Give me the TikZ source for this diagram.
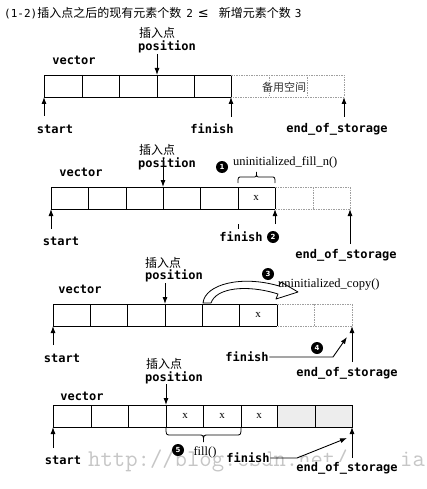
\documentclass[tikz,border=0pt]{standalone}
\usepackage{fontspec}
\newfontfamily\cjk{Noto Sans CJK SC}
\newfontfamily\monof{DejaVu Sans Mono}
\newfontfamily\serf{Liberation Serif}
\newfontfamily\djv{DejaVu Sans}
\usetikzlibrary{arrows.meta}
\begin{document}
\begin{tikzpicture}[x=1pt,y=-1pt,
  lbl/.style={font=\monof\bfseries\fontsize{12}{12}\selectfont, inner sep=0.5pt},
  cjkl/.style={font=\cjk\fontsize{12}{12}\selectfont, inner sep=0pt},
  fn/.style={font=\serf\fontsize{12.5}{12.5}\selectfont, inner sep=0pt},
  xl/.style={font=\serf\fontsize{11}{11}\selectfont, inner sep=0pt},
  num/.style={circle, fill=black, text=white, inner sep=0pt, minimum size=12pt, font=\djv\bfseries\fontsize{7}{7}\selectfont},
  ptr/.style={-{Latex[length=7pt,width=5pt]}, line width=0.9pt},
  cellline/.style={line width=0.9pt},
  spare/.style={gray!75, line width=0.6pt, dash pattern=on 1.5pt off 1pt},
  wm/.style={font=\ttfamily\fontsize{24}{24}\selectfont, text=gray!45, inner sep=0pt, anchor=base west},
  brc/.style={line width=0.8pt},
]
\useasboundingbox (0,0) rectangle (427,489);

% title
\node[cjkl, anchor=west] (title) at (4,13) {{\monof\fontsize{11}{11}\selectfont(1-2)}插入点之后的现有元素个数\hspace{5pt}{\monof\fontsize{11}{11}\selectfont 2}\hspace{5pt}{\djv\fontsize{13}{13}\selectfont ≤}\hspace{10pt}新增元素个数\hspace{4pt}{\monof\fontsize{11}{11}\selectfont 3}};

% ---------------- block 1 ----------------
\node[lbl] (vec1) at (74,60) {vector};
\node[cjkl] (ins1) at (157,33) {插入点};
\node[lbl] (pos1) at (167,47) {position};
\draw[cellline] (231,75) -- (44,75) -- (44,97) -- (231,97);
\foreach \x in {82,119,157,194,231} \draw[cellline] (\x,75) -- (\x,97);
\draw[spare] (231,75) -- (344,75) -- (344,97) -- (231,97);
\foreach \x in {269,307} \draw[spare] (\x,75) -- (\x,97);
\node[font=\cjk\fontsize{11}{11}\selectfont, text=black!80, fill=white, inner sep=0.5pt] (spare1) at (284,87) {备用空间};
\coordinate (p1) at (157,75);
\draw[ptr] (pos1.south -| p1) -- (p1);
\node[lbl] (start1) at (55,129) {start};
\node[lbl] (fin1) at (212,129) {finish};
\node[lbl] (eos1) at (337,129) {end\_of\_storage};
\coordinate (s1) at (44,97); \coordinate (s1b) at (44,116);
\coordinate (f1) at (231,97); \coordinate (f1b) at (231,117);
\coordinate (e1) at (344,97); \coordinate (e1b) at (344,117);
\draw[ptr] (s1b) -- (s1);
\draw[ptr] (f1b) -- (f1);
\draw[ptr] (e1b) -- (e1);

% ---------------- block 2 ----------------
\node[lbl] (vec2) at (81,172) {vector};
\node[cjkl] (ins2) at (157,150) {插入点};
\node[lbl] (pos2) at (167,164) {position};
\draw[cellline] (275,187) -- (51,187) -- (51,209) -- (275,209);
\foreach \x in {88,126,163,200,238,275} \draw[cellline] (\x,187) -- (\x,209);
\draw[spare] (275,187) -- (350,187) -- (350,209) -- (275,209);
\draw[spare] (313,187) -- (313,209);
\node[xl] (x21) at (256,198) {x};
\coordinate (p2) at (163,187); \coordinate (p2t) at (163,158);
\draw[ptr] (p2t) -- (p2);
% brace above the new element
\draw[brc] (238,183) .. controls (238,177) .. (242,177) -- (252.5,177)
  .. controls (256.5,177) .. (256.5,172) .. controls (256.5,177) .. (260.5,177)
  -- (271,177) .. controls (275,177) .. (275,183);
\node[num] (n1) at (222,167) {1};
\node[fn, anchor=west] (ufn) at (233,162) {uninitialized\_fill\_n()};
\node[lbl] (start2) at (61,241) {start};
\node[lbl] (fin2) at (241,237) {finish};
\node[num] (n2) at (273,237) {2};
\node[lbl] (eos2) at (346,255) {end\_of\_storage};
\coordinate (s2) at (51,209); \coordinate (s2b) at (51,229);
\coordinate (f2) at (275,209); \coordinate (f2b) at (275,224);
\coordinate (e2) at (350,209); \coordinate (e2b) at (350,244);
\coordinate (t2a) at (238,224); \coordinate (t2b) at (238,229);
\draw[ptr] (s2b) -- (s2);
\draw[ptr] (f2b) -- (f2);
\draw[ptr] (e2b) -- (e2);
\draw[line width=0.8pt] (t2a) -- (t2b);

% ---------------- block 3 ----------------
\node[lbl] (vec3) at (80,289) {vector};
\node[cjkl] (ins3) at (163,263) {插入点};
\node[lbl] (pos3) at (174,276) {position};
\draw[cellline] (277,304) -- (53,304) -- (53,326) -- (277,326);
\foreach \x in {90,127,165,202,239,277} \draw[cellline] (\x,304) -- (\x,326);
\draw[spare] (277,304) -- (352,304) -- (352,326) -- (277,326);
\draw[spare] (314,304) -- (314,326);
\node[xl] (x31) at (258,315) {x};
\coordinate (p3) at (165,304); \coordinate (p3t) at (165,283);
\draw[ptr] (p3t) -- (p3);
% hollow curved arrow
\draw[line width=0.8pt, fill=white, line join=round]
  (203,303) .. controls (205,284) and (242,275) .. (279,286)
  -- (281,282) -- (298,292) -- (276,299) -- (278,294)
  .. controls (246,284) and (216,288) .. (211,303) -- cycle;
\node[num] (n3) at (268,274) {3};
\node[fn, anchor=west] (ucp) at (278,285) {uninitialized\_copy()};
\node[lbl] (start3) at (62,358) {start};
\node[lbl] (fin3) at (247,357) {finish};
\node[num] (n4) at (317,348) {4};
\node[lbl] (eos3) at (347,373) {end\_of\_storage};
\coordinate (s3) at (53,326); \coordinate (s3b) at (53,345);
\coordinate (e3) at (352,326); \coordinate (e3b) at (352,362);
\coordinate (k3) at (333,357); \coordinate (a3) at (347,337);
\draw[ptr] (s3b) -- (s3);
\draw[ptr] (e3b) -- (e3);
\draw[ptr] (fin3.east) -- (k3) -- (a3);

% ---------------- block 4 ----------------
\node[wm] (wm1) at (88,466) {http://blog.csdn.net/};
\node[wm] (wm2) at (400,466) {ia};
\node[lbl] (vec4) at (82,396) {vector};
\node[cjkl] (ins4) at (164,364) {插入点};
\node[lbl] (pos4) at (174,378) {position};
\fill[gray!14] (277,405) rectangle (352,427);
\draw[cellline] (53,405) rectangle (352,427);
\foreach \x in {91,128,166,203,241,277,315} \draw[cellline] (\x,405) -- (\x,427);
\node[xl] (x41) at (185,416) {x};
\node[xl] (x42) at (222,416) {x};
\node[xl] (x43) at (259,416) {x};
\coordinate (p4) at (166,405); \coordinate (p4t) at (166,384);
\draw[ptr] (p4t) -- (p4);
% brace below the filled elements
\draw[brc] (166,427) .. controls (166,435) .. (171,435) -- (198.5,435)
  .. controls (203.5,435) .. (203.5,442) .. controls (203.5,435) .. (208.5,435)
  -- (236,435) .. controls (241,435) .. (241,427);
\node[num] (n5) at (178,450) {5};
\node[fn, inner sep=0.5pt] (fillf) at (205,452) {fill()};
\node[lbl] (start4) at (63,460) {start};
\node[lbl, fill=white] (fin4) at (248,458) {finish};
\node[lbl, fill=white] (eos4) at (347,468) {end\_of\_storage};
\coordinate (s4) at (53,427); \coordinate (s4b) at (53,448);
\coordinate (e4) at (352,427); \coordinate (e4b) at (352,458);
\coordinate (k4) at (297,458); \coordinate (a4) at (347,438);
\draw[ptr] (s4b) -- (s4);
\draw[ptr] (e4b) -- (e4);
\draw[ptr] (fin4.east) -- (k4) -- (a4);
\end{tikzpicture}
\end{document}
